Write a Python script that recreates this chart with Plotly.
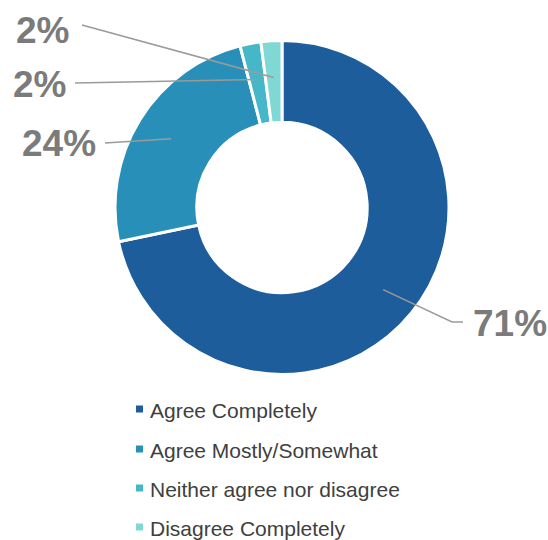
import math
import plotly.graph_objects as go

# Survey response shares
categories = ["Agree Completely", "Agree Mostly/Somewhat",
              "Neither agree nor disagree", "Disagree Completely"]
values = [71, 24, 2, 2]
labels = ["71%", "24%", "2%", "2%"]
colors = ["#1d5d9b", "#2890b8", "#46b7c8", "#7fd8d4"]

W, H = 548, 540
CX, CY, R = 282, 207.5, 167   # donut centre and outer radius (px, top-left origin)
HOLE = 0.51

# Label text centres and the outer end of each leader line (px)
label_pos = [(510, 323), (59, 143), (39, 84), (42, 31)]
leader_start = [[(463, 322), (452, 322)], [(105, 143)], [(75, 83)], [(82, 25)]]


def px(x, y):
    return x / W, 1 - y / H


fig = go.Figure()
fig.add_trace(go.Pie(
    labels=categories, values=values, hole=HOLE, sort=False,
    direction="clockwise", rotation=0,
    marker=dict(colors=colors, line=dict(color="white", width=3)),
    textinfo="none", hoverinfo="label+percent", showlegend=False,
    domain=dict(x=[(CX - R) / W, (CX + R) / W],
                y=[1 - (CY + R) / H, 1 - (CY - R) / H]),
))

shapes, annotations = [], []
total = sum(values)
cum = 0
r_mid = R * 0.78
for i, v in enumerate(values):
    frac_mid = (cum + v / 2) / total
    cum += v
    ang = math.radians(90 - 360 * frac_mid)
    ex, ey = CX + r_mid * math.cos(ang), CY - r_mid * math.sin(ang)
    pts = leader_start[i] + [(ex, ey)]
    path = "M " + " L ".join(f"{px(x, y)[0]},{px(x, y)[1]}" for x, y in pts)
    shapes.append(dict(type="path", path=path, xref="paper", yref="paper",
                       line=dict(color="#9a9a9a", width=1.5)))
    lx, ly = px(*label_pos[i])
    annotations.append(dict(x=lx, y=ly, xref="paper", yref="paper",
                            text=f"<b>{labels[i]}</b>", showarrow=False,
                            xanchor="center", yanchor="middle",
                            font=dict(size=37, color="#7b7b7b",
                                      family="Liberation Sans, Arial")))

# Legend drawn below the donut
legend_y = [409, 449, 488, 527]
for i, name in enumerate(categories):
    y = legend_y[i]
    x0, y0 = px(136, y - 3.5)
    x1, y1 = px(143, y + 3.5)
    shapes.append(dict(type="rect", xref="paper", yref="paper",
                       x0=x0, x1=x1, y0=y1, y1=y0,
                       fillcolor=colors[i], line=dict(width=0)))
    tx, ty = px(148, y + 1)
    annotations.append(dict(x=tx, y=ty, xref="paper", yref="paper",
                            text=name, showarrow=False,
                            xanchor="left", yanchor="middle",
                            font=dict(size=21, color="#404040",
                                      family="Liberation Sans, Arial")))

fig.update_layout(
    width=W, height=H, margin=dict(l=0, r=0, t=0, b=0),
    paper_bgcolor="white", plot_bgcolor="white",
    shapes=shapes, annotations=annotations,
)

fig.write_html("out.html")
